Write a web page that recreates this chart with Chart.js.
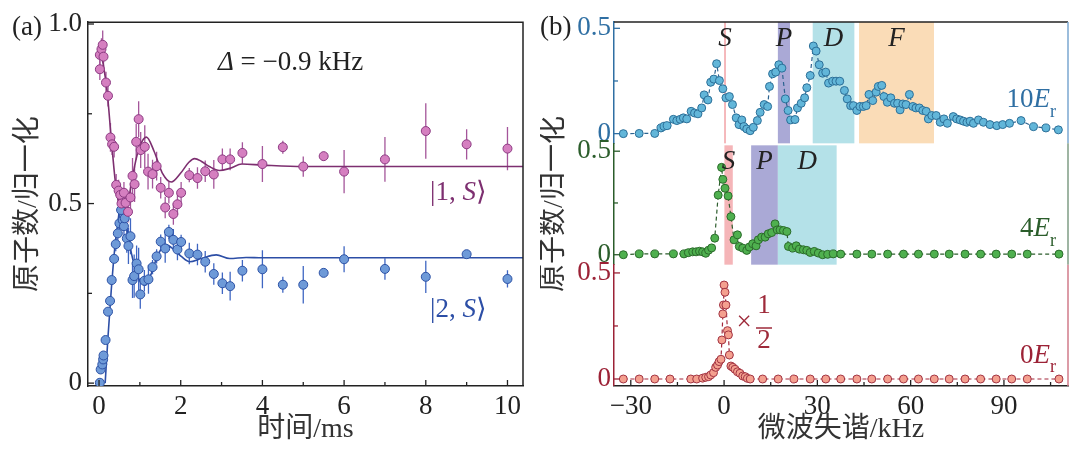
<!DOCTYPE html>
<html><head><meta charset="utf-8">
<script src="https://cdn.jsdelivr.net/npm/chart.js@4.4.1/dist/chart.umd.min.js"></script>
<style>
html,body{margin:0;padding:0;background:#fff;}
#wrap{position:relative;width:1080px;height:460px;overflow:hidden;}
#ca{position:absolute;left:0;top:0;}
#cb{position:absolute;left:540px;top:0;}
</style></head>
<body><div id="wrap"><canvas id="ca" width="540" height="460"></canvas><canvas id="cb" width="540" height="460"></canvas></div>
<script>
const SERIF = "'Liberation Serif','DejaVu Serif',serif";
const CJK = "'Liberation Serif','Noto Sans CJK SC',sans-serif";

// ---------- Panel (a) data ----------
const timeS1 = [0.02,0.02,0.06,0.09,0.11,0.17,0.22,0.28,0.32,0.37,0.42,0.48,0.52,0.55,0.61,0.65,0.71,0.77,0.82,0.87,0.91,0.97,1.02,1.12,1.20,1.31,1.41,1.51,1.62,1.71,1.82,1.92,2.01,2.21,2.41,2.60,2.81,3.02,3.21,3.51,4.0,4.5,5.0,5.5,6.0,7.0,8.0,9.0,10.0];
const popS1  = [0.874,0.914,0.93,0.942,0.909,0.837,0.80,0.684,0.665,0.658,0.552,0.536,0.524,0.50,0.53,0.502,0.477,0.517,0.577,0.554,0.672,0.735,0.649,0.658,0.589,0.582,0.604,0.544,0.489,0.53,0.471,0.498,0.53,0.579,0.571,0.59,0.581,0.623,0.623,0.641,0.61,0.657,0.603,0.632,0.589,0.623,0.702,0.665,0.653];
const errS1  = [0.03,0.03,0.03,0.04,0.03,0.03,0.03,0.04,0.03,0.03,0.03,0.03,0.03,0.03,0.03,0.03,0.03,0.04,0.05,0.05,0.05,0.05,0.05,0.06,0.05,0.04,0.04,0.03,0.03,0.03,0.03,0.03,0.03,0.02,0.03,0.03,0.04,0.03,0.03,0.03,0.05,0.018,0.028,0.012,0.06,0.062,0.077,0.042,0.06];

const timeS2 = [0.02,0.04,0.08,0.10,0.11,0.16,0.22,0.27,0.31,0.37,0.41,0.46,0.50,0.54,0.58,0.61,0.63,0.68,0.72,0.77,0.82,0.86,0.92,0.97,1.01,1.11,1.21,1.31,1.41,1.51,1.62,1.71,1.82,1.92,2.01,2.21,2.41,2.60,2.81,3.02,3.21,3.51,4.0,4.5,5.0,5.5,6.0,7.0,8.0,9.0,10.0];
const popS2  = [0.001,0.038,0.052,0.066,0.077,0.12,0.199,0.229,0.287,0.346,0.387,0.417,0.445,0.482,0.454,0.437,0.459,0.403,0.382,0.409,0.287,0.298,0.333,0.317,0.247,0.285,0.289,0.323,0.353,0.394,0.375,0.421,0.399,0.372,0.393,0.361,0.358,0.338,0.304,0.278,0.27,0.313,0.317,0.274,0.274,0.307,0.345,0.318,0.296,0.359,0.29];
const errS2  = [0.005,0.01,0.01,0.01,0.01,0.01,0.01,0.01,0.01,0.01,0.02,0.02,0.03,0.03,0.03,0.03,0.03,0.04,0.05,0.05,0.05,0.06,0.05,0.06,0.04,0.03,0.04,0.02,0.02,0.02,0.04,0.02,0.03,0.03,0.02,0.03,0.03,0.03,0.03,0.03,0.04,0.03,0.053,0.022,0.052,0.01,0.036,0.03,0.045,0.01,0.024];

const fitTime1 = [0,0.1,0.2,0.3,0.4,0.5,0.6,0.7,0.8,0.9,1.0,1.16,1.35,1.55,1.77,2.0,2.2,2.34,2.5,2.7,2.95,3.2,3.5,4.0,5.0,6.0,8.0,10.4];
const fitPop1  = [0.94,0.89,0.81,0.68,0.56,0.49,0.47,0.50,0.56,0.62,0.66,0.685,0.645,0.585,0.56,0.585,0.615,0.625,0.618,0.603,0.592,0.598,0.61,0.607,0.603,0.603,0.603,0.603];
const fitTime2 = [0.15,0.22,0.30,0.38,0.47,0.55,0.63,0.71,0.87,1.0,1.13,1.28,1.44,1.65,1.85,2.02,2.22,2.5,2.87,3.2,3.6,4.0,5.0,6.0,8.0,10.4];
const fitPop2  = [0,0.13,0.26,0.37,0.455,0.52,0.47,0.41,0.325,0.285,0.273,0.305,0.357,0.385,0.37,0.352,0.338,0.347,0.357,0.347,0.35,0.349,0.349,0.349,0.349,0.349];

const xTicksA = [0,1,2,3,4,5,6,7,8,9,10];
const yTicksA = [0,0.25,0.5,0.75,1];

// ---------- Panel (b) data ----------
const det10 = [-32.4,-27.3,-22.3,-20.3,-19.3,-18.3,-16.3,-15.2,-14.1,-13.1,-12,-10.6,-9.5,-8.4,-7.2,-6.4,-5.2,-4.3,-3.3,-2.4,-1.5,-0.4,0.6,1.7,2.7,3.9,4.8,5.7,6.4,7.3,8.4,9.4,10.7,11.6,12.9,14,14.6,15.6,16.6,17.6,18.6,19.7,20.6,21.4,22.8,23.6,24.8,25.9,26.6,27.7,28.7,29.6,30.6,31.7,32.7,33.6,34.9,36,37.2,38.7,39.6,40.7,41.6,42.7,43.7,44.8,45.7,46.6,47.8,48.9,49.6,50.7,51.4,52.5,53.6,54.8,55.8,56.6,57.5,58.5,59.6,60.7,61.7,62.8,63.9,65,65.7,66.8,68.2,69.5,70.7,71.8,73.7,74.8,75.9,77,78.1,79.1,80.2,81.8,83.4,85.5,87.7,89.6,91.8,95.5,99.5,103.5,107.5];
const pop10 = [0,0.001,0.001,0.027,0.035,0.038,0.068,0.062,0.068,0.075,0.07,0.106,0.098,0.094,0.122,0.184,0.16,0.244,0.259,0.332,0.252,0.213,0.17,0.176,0.138,0.075,0.043,0.065,0.033,0.022,0.014,0.03,0.062,0.101,0.138,0.129,0.224,0.284,0.292,0.327,0.311,0.165,0.11,0.065,0.067,0.122,0.144,0.17,0.218,0.276,0.416,0.392,0.327,0.287,0.292,0.24,0.249,0.249,0.249,0.205,0.165,0.133,0.133,0.11,0.129,0.129,0.133,0.186,0.157,0.197,0.224,0.229,0.176,0.149,0.17,0.144,0.144,0.113,0.141,0.138,0.186,0.129,0.122,0.122,0.11,0.106,0.07,0.086,0.086,0.054,0.07,0.049,0.081,0.07,0.065,0.059,0.054,0.059,0.049,0.065,0.054,0.043,0.038,0.043,0.049,0.062,0.033,0.027,0.018];

const det4 = [-32.4,-27.3,-22.3,-16.3,-12.9,-11.5,-10.1,-9,-7.9,-6.9,-5.9,-5.0,-4.0,-3.0,-1.9,-0.8,-0.4,0.3,1.3,2.2,3.2,4.3,4.9,6.0,7.3,8.1,9.2,10.3,11,12.1,13.2,14.2,15.3,16.4,17.1,18,19.1,20.2,20.7,22.1,23.2,24.2,25.5,26.6,27.7,29,30.3,31.7,33.3,35.1,37.5,42.7,47.5,52.6,57.7,62.5,67.6,72.4,77.5,82.5,87.5,92.5,97.5,107.7];
const pop4 = [0,0.004,0.004,0.004,0.004,0.01,0.014,0.014,0.017,0.014,0.007,0.022,0.033,0.08,0.288,0.422,0.364,0.321,0.284,0.184,0.072,0.096,0.04,0.032,0.021,0.037,0.053,0.043,0.072,0.085,0.085,0.101,0.107,0.149,0.12,0.12,0.117,0.112,0.04,0.032,0.043,0.027,0.024,0.021,0.011,0.016,0.008,0,0.002,0.004,0.003,0.003,0.003,0.003,0.003,0.003,0.003,0.003,0.003,0.003,0.003,0.003,0.003,0.003];

const det0 = [-32.4,-27.3,-22.3,-17.4,-10.7,-8.8,-6.9,-5.9,-5.0,-4.3,-3.4,-2.7,-2.1,-1.6,-1.0,-0.7,-0.4,-0.2,0,0.3,0.6,1.1,1.4,1.7,2.2,2.8,3.5,4.3,5.1,6.0,6.8,7.5,8.4,12.4,17.4,22.5,27.7,32.7,37.5,42.7,47.5,52.6,57.7,62.5,67.6,72.4,77.5,82.5,87.5,92.5,97.5,107.7];
const pop0 = [0,0,0,0,0,0,0.004,0.008,0.011,0.019,0.03,0.055,0.066,0.082,0.093,0.184,0.307,0.349,0.443,0.409,0.349,0.228,0.208,0.113,0.061,0.055,0.046,0.034,0.027,0.014,0.011,0.003,0,0,0,0,0,0,0,0,0,0,0,0,0,0,0,0,0,0,0,0];

// spectral regions (kHz)
const bandFrom10 = [0, 17.3, 28.5, 43.4];
const bandTo10   = [0.6, 21.2, 41.9, 67.5];
const bandLab10  = ['S','P','D','F'];
const bandFrom4  = [0.1, 8.7, 17.3];
const bandTo4    = [2.8, 17.3, 36.2];
const bandLab4   = ['S','P','D'];

const xTicksB = [-30,-15,0,15,30,45,60,75,90,105];
const yTicksB = [0,0.25,0.5];

// ---------- helpers ----------
const pts = (xs, ys) => xs.map((x, i) => ({x, y: ys[i]}));
function rich(ctx, x, y, segs, align, color) {
  let w = 0;
  segs.forEach(s => { ctx.font = s.f; s.w = ctx.measureText(s.t).width; w += s.w; });
  let cx = align === 'center' ? x - w / 2 : (align === 'right' ? x - w : x);
  ctx.textBaseline = 'middle'; ctx.textAlign = 'left'; ctx.fillStyle = color;
  segs.forEach(s => { ctx.font = s.f; ctx.fillText(s.t, cx, y + (s.dy || 0)); cx += s.w; });
}
const F27 = '27px ' + SERIF, I27 = 'italic 27px ' + SERIF, F18 = '18px ' + SERIF;

const inTicks = {
  id: 'inTicks',
  afterDraw(chart) {
    const ctx = chart.ctx;
    Object.values(chart.scales).forEach(s => {
      const col = s.options.border.color;
      ctx.save(); ctx.strokeStyle = col; ctx.lineWidth = 1.3;
      s.ticks.forEach(t => {
        const len = t.label !== '' ? 6 : 4;
        const p = s.getPixelForValue(t.value);
        ctx.beginPath();
        if (s.isHorizontal()) { ctx.moveTo(p, s.top); ctx.lineTo(p, s.top - len); }
        else { ctx.moveTo(s.right, p); ctx.lineTo(s.right + len, p); }
        ctx.stroke();
      });
      ctx.restore();
    });
  }
};

const errorBars = {
  id: 'errorBars',
  beforeDatasetsDraw(chart) {
    const {ctx, chartArea: a, scales: {x, y}} = chart;
    ctx.save();
    ctx.beginPath(); ctx.rect(a.left, a.top, a.right - a.left, a.bottom - a.top); ctx.clip();
    chart.data.datasets.forEach(ds => {
      if (!ds.errors) return;
      ctx.strokeStyle = ds.errorColor; ctx.lineWidth = 1.3;
      ds.data.forEach((p, i) => {
        const e = ds.errors[i]; const px = x.getPixelForValue(p.x);
        ctx.beginPath(); ctx.moveTo(px, y.getPixelForValue(p.y - e)); ctx.lineTo(px, y.getPixelForValue(p.y + e)); ctx.stroke();
      });
    });
    ctx.restore();
  }
};

const decoA = {
  id: 'decoA',
  afterDraw(chart) {
    const {ctx, chartArea: a} = chart;
    ctx.save();
    ctx.strokeStyle = '#222'; ctx.lineWidth = 1.5;
    ctx.beginPath(); ctx.moveTo(a.left, a.top); ctx.lineTo(a.right, a.top); ctx.lineTo(a.right, a.bottom); ctx.stroke();
    rich(ctx, 12, 28, [{t: '(a)', f: F27}], 'left', '#222');
    rich(ctx, 218, 63, [{t: 'Δ', f: I27}, {t: ' = −0.9 kHz', f: F27}], 'left', '#222');
    rich(ctx, 430, 193, [{t: '|1, ', f: F27}, {t: 'S', f: I27}, {t: '⟩', f: F27}], 'left', '#7d2f70');
    rich(ctx, 430, 310, [{t: '|2, ', f: F27}, {t: 'S', f: I27}, {t: '⟩', f: F27}], 'left', '#2c4ea6');
    ctx.restore();
  }
};

const axisFont = {family: SERIF, size: 27};
new Chart(document.getElementById('ca'), {
  type: 'scatter',
  data: {
    datasets: [
      {data: pts(timeS1, popS1), errors: errS1, errorColor: '#a4559a', pointRadius: 4.5, pointBackgroundColor: '#d57fc0', pointBorderColor: '#8c3a82', pointBorderWidth: 1, showLine: false},
      {data: pts(timeS2, popS2), errors: errS2, errorColor: '#3f66c2', pointRadius: 4.5, pointBackgroundColor: '#6e9ad8', pointBorderColor: '#2d52a5', pointBorderWidth: 1, showLine: false},
      {data: pts(fitTime1, fitPop1), showLine: true, pointRadius: 0, borderColor: '#7d2f70', borderWidth: 1.6, cubicInterpolationMode: 'monotone'},
      {data: pts(fitTime2, fitPop2), showLine: true, pointRadius: 0, borderColor: '#2c4ea6', borderWidth: 1.6, cubicInterpolationMode: 'monotone'}
    ]
  },
  options: {
    responsive: false, animation: false,
    layout: {padding: {left: 0, right: 17, top: 22, bottom: 0}},
    plugins: {legend: {display: false}, tooltip: {enabled: false}},
    scales: {
      x: {type: 'linear', position: 'bottom', min: -0.27, max: 10.38,
        afterBuildTicks: s => { s.ticks = xTicksA.map(v => ({value: v})); },
        afterFit: s => { s.height = 74; },
        grid: {display: false, drawTicks: false},
        border: {display: true, color: '#222', width: 1.5},
        ticks: {font: axisFont, color: '#222', padding: 5, maxRotation: 0, autoSkip: false, callback: v => (v % 2 === 0 ? String(v) : '')},
        title: {display: true, text: '时间/ms', font: {family: CJK, size: 28}, color: '#333', padding: {top: 0, bottom: 14}}
      },
      y: {type: 'linear', position: 'left', min: -0.008, max: 1.005,
        afterBuildTicks: s => { s.ticks = yTicksA.map(v => ({value: v})); },
        afterFit: s => { s.width = 88; },
        grid: {display: false, drawTicks: false},
        border: {display: true, color: '#222', width: 1.5},
        ticks: {font: axisFont, color: '#222', padding: 6, autoSkip: false, callback: v => (v === 1 ? '1.0' : v === 0.5 ? '0.5' : v === 0 ? '0' : '')},
        title: {display: true, text: '原子数/归一化', font: {family: CJK, size: 28}, color: '#333', padding: {top: 12, bottom: 0}}
      }
    }
  },
  plugins: [errorBars, inTicks, decoA]
});

// ---------- Panel (b) ----------
const BAND_COL = {S: '#f5b5b8', P: '#aaa9d6', D: '#b4e1e8', F: '#fadcb7'};
const bandsB = [
  {axis: 'yT', from: bandFrom10, to: bandTo10, lab: bandLab10, inset: 0},
  {axis: 'yM', from: bandFrom4, to: bandTo4, lab: bandLab4, inset: 2}
];
const bandPlugin = {
  id: 'bands',
  beforeDatasetsDraw(chart) {
    const {ctx} = chart; const xs = chart.scales.x;
    ctx.save();
    bandsB.forEach(p => {
      const ys = chart.scales[p.axis];
      p.from.forEach((f, i) => {
        const x0 = xs.getPixelForValue(f), x1 = xs.getPixelForValue(p.to[i]);
        ctx.fillStyle = BAND_COL[p.lab[i]];
        ctx.fillRect(x0, ys.top + p.inset, x1 - x0, ys.bottom - ys.top - p.inset);
      });
    });
    ctx.restore();
  },
  afterDatasetsDraw(chart) {
    const {ctx} = chart; const xs = chart.scales.x;
    ctx.save();
    bandsB.forEach(p => {
      const ys = chart.scales[p.axis];
      p.from.forEach((f, i) => {
        const xc = xs.getPixelForValue((f + p.to[i]) / 2);
        rich(ctx, xc, ys.top + 17 + p.inset, [{t: p.lab[i], f: I27}], 'center', '#222');
      });
    });
    ctx.restore();
  }
};
const RIGHT_COL = {yT: '#7ba7d0', yM: '#7f9d84', yB: '#d07b8a'};
const decoB = {
  id: 'decoB',
  afterDraw(chart) {
    const {ctx, chartArea: a} = chart;
    ctx.save();
    ctx.lineWidth = 1.5;
    ctx.strokeStyle = '#222';
    ctx.beginPath(); ctx.moveTo(a.left, a.top); ctx.lineTo(a.right, a.top); ctx.stroke();
    ['yT', 'yM', 'yB'].forEach(k => {
      const s = chart.scales[k];
      ctx.strokeStyle = RIGHT_COL[k];
      ctx.beginPath(); ctx.moveTo(a.right, s.top); ctx.lineTo(a.right, s.bottom); ctx.stroke();
    });
    rich(ctx, 0, 28, [{t: '(b)', f: F27}], 'left', '#222');
    // y title
    ctx.translate(15, 204); ctx.rotate(-Math.PI / 2);
    ctx.font = '28px ' + CJK; ctx.fillStyle = '#333'; ctx.textAlign = 'center'; ctx.textBaseline = 'middle';
    ctx.fillText('原子数/归一化', 0, 0);
    ctx.setTransform(1, 0, 0, 1, 0, 0);
    const yT = chart.scales.yT, yM = chart.scales.yM, yB = chart.scales.yB;
    rich(ctx, 516, yT.getPixelForValue(0.16), [{t: '10', f: F27}, {t: 'E', f: I27}, {t: 'r', f: F18, dy: 12}], 'right', '#2f6fa3');
    rich(ctx, 516, yM.getPixelForValue(0.125), [{t: '4', f: F27}, {t: 'E', f: I27}, {t: 'r', f: F18, dy: 12}], 'right', '#2b5d2b');
    rich(ctx, 516, yB.getPixelForValue(0.11), [{t: '0', f: F27}, {t: 'E', f: I27}, {t: 'r', f: F18, dy: 12}], 'right', '#9c2236');
    // x 1/2
    const red = '#9e2a3a';
    rich(ctx, 204, 323, [{t: '×', f: F27}], 'center', red);
    rich(ctx, 224, 306, [{t: '1', f: F27}], 'center', red);
    rich(ctx, 224, 341, [{t: '2', f: F27}], 'center', red);
    ctx.strokeStyle = red; ctx.lineWidth = 1.5;
    ctx.beginPath(); ctx.moveTo(216, 328); ctx.lineTo(232, 328); ctx.stroke();
    ctx.restore();
  }
};

function yStack(min, max, col, w) {
  return {type: 'linear', position: 'left', stack: 'b', stackWeight: 1, weight: w, min, max,
    afterBuildTicks: s => { s.ticks = yTicksB.map(v => ({value: v})); },
    afterFit: s => { s.width = 74; },
    grid: {display: false, drawTicks: false},
    border: {display: true, color: col, width: 1.5},
    ticks: {font: axisFont, color: col, padding: 3, autoSkip: false, callback: v => (v === 0.5 ? '0.5' : v === 0 ? '0' : '')}
  };
}
function specDs(xs, ys, axis, fill, edge, line) {
  return {data: pts(xs, ys), yAxisID: axis, showLine: true, borderColor: line, borderWidth: 1.2, borderDash: [4, 3],
    pointRadius: 4, pointBackgroundColor: fill, pointBorderColor: edge, pointBorderWidth: 1};
}
new Chart(document.getElementById('cb'), {
  type: 'scatter',
  data: {
    datasets: [
      specDs(det10, pop10, 'yT', '#62b6d9', '#2c6f98', '#2c6390'),
      specDs(det4, pop4, 'yM', '#4fb04f', '#2b6b2b', '#2d5d2d'),
      specDs(det0, pop0, 'yB', '#f4a08f', '#a23342', '#a3283c')
    ]
  },
  options: {
    responsive: false, animation: false,
    layout: {padding: {left: 0, right: 12, top: 22, bottom: 0}},
    plugins: {legend: {display: false}, tooltip: {enabled: false}},
    scales: {
      x: {type: 'linear', position: 'bottom', min: -35.4, max: 110.6,
        afterBuildTicks: s => { s.ticks = xTicksB.map(v => ({value: v})); },
        afterFit: s => { s.height = 74; },
        grid: {display: false, drawTicks: false},
        border: {display: true, color: '#222', width: 1.5},
        ticks: {font: axisFont, color: '#222', padding: 5, maxRotation: 0, autoSkip: false, callback: v => (v % 30 === 0 ? (v < 0 ? '−' + Math.abs(v) : String(v)) : '')},
        title: {display: true, text: '微波失谐/kHz', font: {family: CJK, size: 28}, color: '#333', padding: {top: 0, bottom: 14}}
      },
      yT: yStack(-0.046, 0.53, '#2f6fa3', 3),
      yM: yStack(-0.048, 0.538, '#2b5d2b', 2),
      yB: yStack(-0.033, 0.539, '#9c2236', 1)
    }
  },
  plugins: [bandPlugin, inTicks, decoB]
});
</script>
</body></html>
